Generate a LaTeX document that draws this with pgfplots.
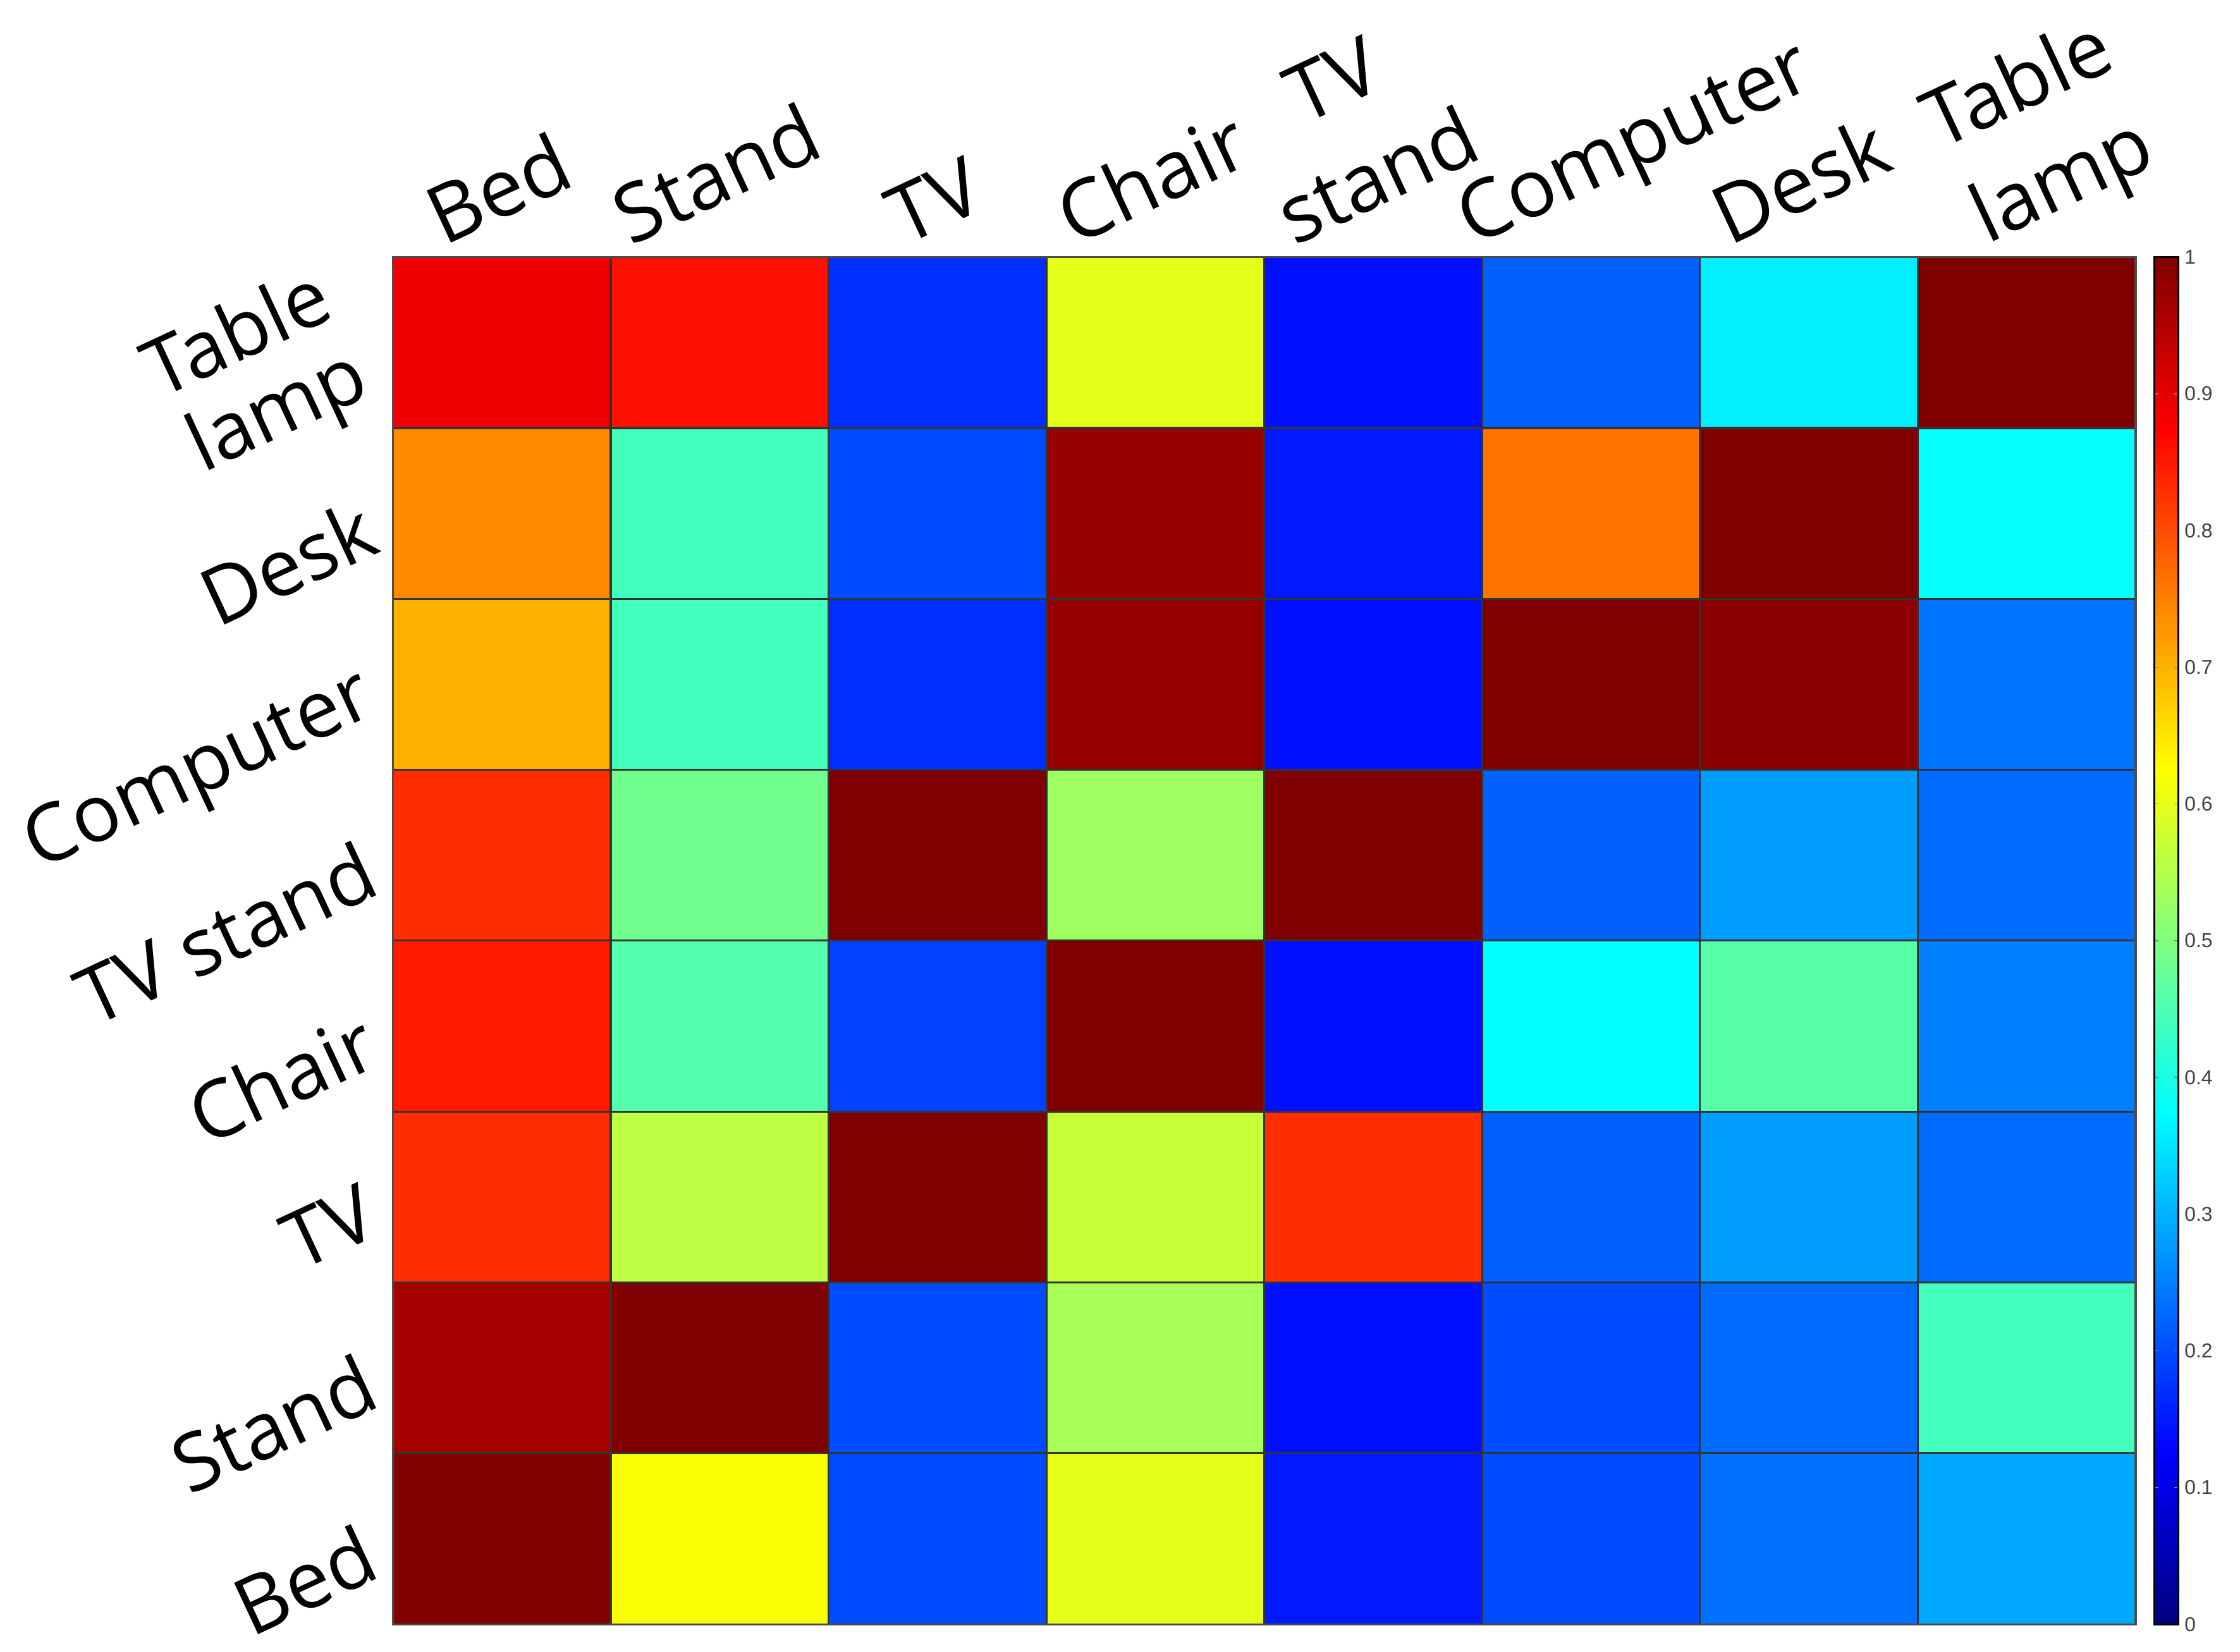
\documentclass[border=0pt]{standalone}
\usepackage{pgfplots}
\pgfplotsset{compat=1.18}
\usepackage{fontspec}
\usepackage{graphicx}
\setmainfont{Open Sans}
\newfontfamily\cbfont{Liberation Sans}

% top labels: rotated box, centred on the column
\newcommand\toplab[1]{\rotatebox{25}{\begin{tabular}{@{}c@{}}#1\end{tabular}}}

% rows y=0 (Bed) .. 7 (Table lamp), columns x=0 (Bed) .. 7 (Table lamp)
\pgfplotstableread{
x y c
0 0 1.00
1 0 0.62
2 0 0.20
3 0 0.60
4 0 0.15
5 0 0.20
6 0 0.235
7 0 0.29
0 1 0.965
1 1 1.00
2 1 0.20
3 1 0.54
4 1 0.14
5 1 0.20
6 1 0.23
7 1 0.44
0 2 0.83
1 2 0.56
2 2 1.00
3 2 0.57
4 2 0.83
5 2 0.22
6 2 0.28
7 2 0.23
0 3 0.85
1 3 0.455
2 3 0.19
3 3 1.00
4 3 0.14
5 3 0.375
6 3 0.46
7 3 0.25
0 4 0.83
1 4 0.485
2 4 1.00
3 4 0.53
4 4 1.00
5 4 0.22
6 4 0.28
7 4 0.23
0 5 0.70
1 5 0.44
2 5 0.17
3 5 0.98
4 5 0.14
5 5 1.00
6 5 0.99
7 5 0.24
0 6 0.74
1 6 0.44
2 6 0.20
3 6 0.975
4 6 0.15
5 6 0.76
6 6 1.00
7 6 0.38
0 7 0.89
1 7 0.86
2 7 0.17
3 7 0.60
4 7 0.14
5 7 0.22
6 7 0.36
7 7 1.00
}\simdata

\begin{document}
\begin{tikzpicture}
\path[use as bounding box] (0,0) rectangle (15.68cm,11.56cm);
\begin{axis}[
  at={(2.75cm,0.19cm)}, anchor=south west,
  scale only axis, width=12.2cm, height=9.57cm,
  xmin=-0.5, xmax=7.5, ymin=-0.5, ymax=7.5,
  enlargelimits=false, axis on top,
  colormap/jet, point meta min=0, point meta max=1,
  xtick={0,...,7}, ytick={0,...,7},
  xticklabels={\toplab{Bed},\toplab{Stand},\toplab{TV},\toplab{Chair},\toplab{TV\\stand},\toplab{Computer},\toplab{Desk},\toplab{Table\\lamp}},
  yticklabels={Bed,Stand,TV,Chair,TV stand,Computer,Desk,{Table\\lamp}},
  xticklabel pos=upper,
  major tick length=0pt,
  xticklabel style={anchor=south, inner sep=0pt, yshift=-0.13cm,
    xshift={(\ticknum==5)*9pt+(\ticknum==7)*3pt-(\ticknum==4)*3pt-(\ticknum==6)*1pt},
    font=\fontsize{16}{21}\selectfont},
  yticklabel style={rotate=25, anchor=east, align=right, inner sep=0pt, xshift={-0.17cm-(\ticknum==7)*3pt}, yshift={(\ticknum==7)*5pt}, font=\fontsize{15.8}{17}\selectfont},
  axis line style={black!70},
  colorbar,
  colorbar style={
    at={(parent axis.north east)}, anchor=north west, xshift=-0.17cm,
    width=0.17cm,
    ytick={0,0.1,0.2,0.3,0.4,0.5,0.6,0.7,0.8,0.9,1},
    major tick length=0.03cm,
    axis line style={black},
    yticklabel style={font=\cbfont\fontsize{4}{4.5}\selectfont, text=black!75, /pgf/number format/assume math mode=true, inner sep=1pt},
  },
]
\addplot[matrix plot*, shader=faceted, faceted color=black!80, point meta=explicit, mesh/cols=8] table[meta=c]{\simdata};
\end{axis}
\end{tikzpicture}
\end{document}
